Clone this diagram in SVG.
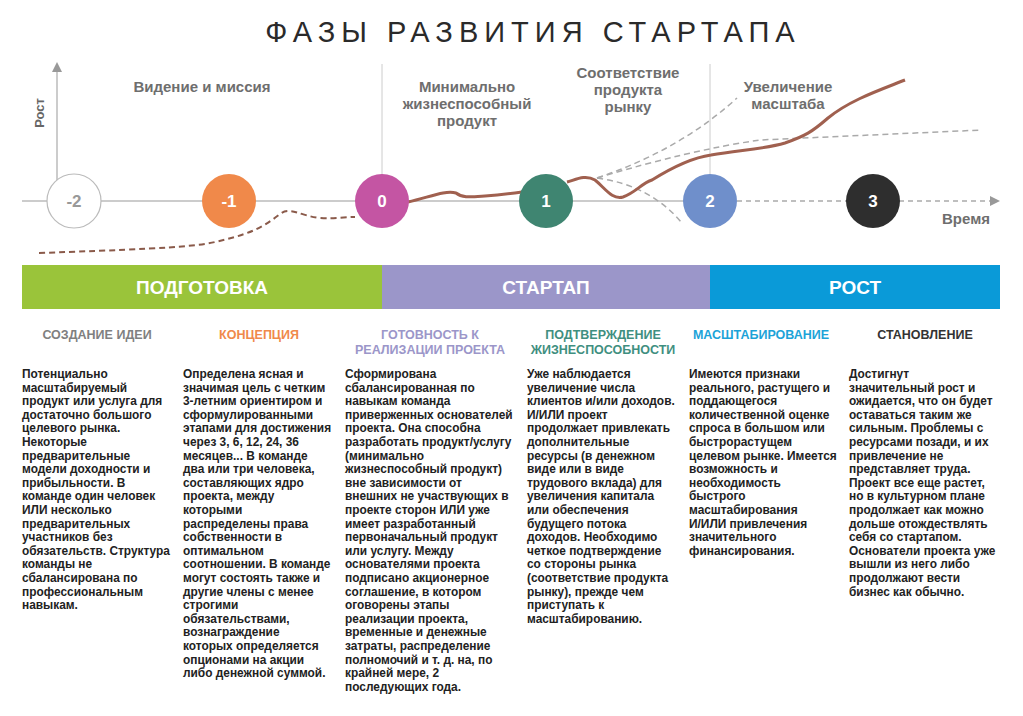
<svg xmlns="http://www.w3.org/2000/svg" width="1023" height="716" viewBox="0 0 1023 716">
<style>
.lbl{font-family:"Liberation Sans Narrow","Liberation Sans",Arial,sans-serif;font-weight:bold;font-size:15px;fill:#6e6e6e;text-anchor:middle}
.num{font-family:"Liberation Sans Narrow","Liberation Sans",sans-serif;font-weight:bold;font-size:17px;fill:#fff;text-anchor:middle}
.bar{font-family:"Liberation Sans",sans-serif;font-weight:bold;font-size:19px;fill:#fff;text-anchor:middle}
.hd{font-family:"Liberation Sans",sans-serif;font-weight:bold;font-size:12.5px;text-anchor:middle}
.body{font-family:"Liberation Sans",sans-serif;font-weight:bold;font-size:11.9px;fill:#222}
.g{fill:none;stroke:#aaa;stroke-width:1.5;stroke-dasharray:6 4}
</style>
<defs>
<marker id="ar" markerWidth="10" markerHeight="10" refX="8" refY="5" orient="auto" markerUnits="userSpaceOnUse"><path d="M0,0 L10,5 L0,10 z" fill="#999"/></marker>
</defs>
<rect width="1023" height="716" fill="#fff"/>
<text x="533" y="42" font-family="Liberation Sans,sans-serif" font-size="29" fill="#2a2a2a" text-anchor="middle" letter-spacing="6">ФАЗЫ РАЗВИТИЯ СТАРТАПА</text>
<g id="axes">
<line x1="57" y1="201" x2="57" y2="64" stroke="#aaa" stroke-width="1.2" marker-end="url(#ar)"/>
<text x="44" y="113" transform="rotate(-90 44 113)" font-family="Liberation Sans,sans-serif" font-weight="bold" font-size="13" fill="#666" text-anchor="middle">Рост</text>
<line x1="22" y1="201" x2="710" y2="201" stroke="#bbb" stroke-width="1.5"/>
<line x1="710" y1="201" x2="998" y2="201" stroke="#aaa" stroke-width="1.5" stroke-dasharray="5 4" marker-end="url(#ar)"/>
<text x="966" y="224" class="lbl">Время</text>
<line x1="382" y1="64" x2="382" y2="201" stroke="#ccc" stroke-width="1"/>
<line x1="710" y1="64" x2="710" y2="201" stroke="#ccc" stroke-width="1"/>
</g>
<g id="connectors">
<path class="g" d="M597,178 Q680,150 737,98"/>
<path class="g" d="M597,178 Q690,150 760,140 L982,130"/>
<path class="g" d="M597,178 Q650,185 682,223"/>
<path d="M39,253 C120,250 190,248 215,242 C245,235 260,230 280,214 C290,206 300,216 320,218 C335,219 345,217 355,217" fill="none" stroke="#8a5a4a" stroke-width="2" stroke-dasharray="6 4"/>
<path d="M408,202 C430,197 445,190 456,193 C462,198 470,197 485,196 C500,195 515,193 522,192 M567,182 C575,180 585,174 595,180 C605,188 612,200 623,197 C635,193 642,183 652,180 C668,170 690,158 711,155 C740,150 765,149 785,143 C805,136 812,132 828,118 C850,100 880,90 905,80" fill="none" stroke="#a0604f" stroke-width="3"/>
</g>
<g id="n-2"><circle cx="74" cy="201" r="27" fill="#fff" stroke="#bbb" stroke-width="1.2"/><text x="74" y="207" class="num" style="fill:#999">-2</text></g>
<g id="n-1"><circle cx="229" cy="201" r="27" fill="#f0894a"/><text x="229" y="207" class="num">-1</text></g>
<g id="n0"><circle cx="382" cy="201" r="27" fill="#c455a3"/><text x="382" y="207" class="num">0</text></g>
<g id="n1"><circle cx="546" cy="201" r="27" fill="#3f8571"/><text x="546" y="207" class="num">1</text></g>
<g id="n2"><circle cx="710" cy="201" r="27" fill="#6f8fcb"/><text x="710" y="207" class="num">2</text></g>
<g id="n3"><circle cx="873" cy="201" r="27" fill="#2e2e2e"/><text x="873" y="207" class="num">3</text></g>
<g id="labels">
<text x="202" y="92" class="lbl">Видение и миссия</text>
<text x="467" y="92" class="lbl"><tspan x="467">Минимально</tspan><tspan x="467" dy="17">жизнеспособный</tspan><tspan x="467" dy="17">продукт</tspan></text>
<text x="628" y="78" class="lbl"><tspan x="628">Соответствие</tspan><tspan x="628" dy="17">продукта</tspan><tspan x="628" dy="17">рынку</tspan></text>
<text x="788" y="92" class="lbl"><tspan x="788">Увеличение</tspan><tspan x="788" dy="17">масштаба</tspan></text>
</g>
<g id="bars">
<rect x="22" y="265" width="360" height="44" fill="#9ac43a"/>
<rect x="382" y="265" width="328" height="44" fill="#9b96c9"/>
<rect x="710" y="265" width="290" height="44" fill="#0a9ad8"/>
<text x="202" y="294" class="bar">ПОДГОТОВКА</text>
<text x="546" y="294" class="bar">СТАРТАП</text>
<text x="855" y="294" class="bar">РОСТ</text>
</g>
<g id="headings">
<text x="97" y="339" class="hd" fill="#808080">СОЗДАНИЕ ИДЕИ</text>
<text x="259" y="339" class="hd" fill="#f0894a">КОНЦЕПЦИЯ</text>
<text x="430" y="339" class="hd" fill="#9b96c9"><tspan x="430">ГОТОВНОСТЬ К</tspan><tspan x="430" dy="15">РЕАЛИЗАЦИИ ПРОЕКТА</tspan></text>
<text x="603" y="339" class="hd" fill="#3f8f80"><tspan x="603">ПОДТВЕРЖДЕНИЕ</tspan><tspan x="603" dy="15">ЖИЗНЕСПОСОБНОСТИ</tspan></text>
<text x="761" y="339" class="hd" fill="#1ca3d8">МАСШТАБИРОВАНИЕ</text>
<text x="925" y="339" class="hd" fill="#333">СТАНОВЛЕНИЕ</text>
</g>
<g id="texts">
<text class="body" y="378"><tspan x="22">Потенциально</tspan><tspan x="22" dy="13.6">масштабируемый</tspan><tspan x="22" dy="13.6">продукт или услуга для</tspan><tspan x="22" dy="13.6">достаточно большого</tspan><tspan x="22" dy="13.6">целевого рынка.</tspan><tspan x="22" dy="13.6">Некоторые</tspan><tspan x="22" dy="13.6">предварительные</tspan><tspan x="22" dy="13.6">модели доходности и</tspan><tspan x="22" dy="13.6">прибыльности. В</tspan><tspan x="22" dy="13.6">команде один человек</tspan><tspan x="22" dy="13.6">ИЛИ несколько</tspan><tspan x="22" dy="13.6">предварительных</tspan><tspan x="22" dy="13.6">участников без</tspan><tspan x="22" dy="13.6">обязательств. Структура</tspan><tspan x="22" dy="13.6">команды не</tspan><tspan x="22" dy="13.6">сбалансирована по</tspan><tspan x="22" dy="13.6">профессиональным</tspan><tspan x="22" dy="13.6">навыкам.</tspan></text>
<text class="body" y="378"><tspan x="183">Определена ясная и</tspan><tspan x="183" dy="13.6">значимая цель с четким</tspan><tspan x="183" dy="13.6">3-летним ориентиром и</tspan><tspan x="183" dy="13.6">сформулированными</tspan><tspan x="183" dy="13.6">этапами для достижения</tspan><tspan x="183" dy="13.6">через 3, 6, 12, 24, 36</tspan><tspan x="183" dy="13.6">месяцев... В команде</tspan><tspan x="183" dy="13.6">два или три человека,</tspan><tspan x="183" dy="13.6">составляющих ядро</tspan><tspan x="183" dy="13.6">проекта, между</tspan><tspan x="183" dy="13.6">которыми</tspan><tspan x="183" dy="13.6">распределены права</tspan><tspan x="183" dy="13.6">собственности в</tspan><tspan x="183" dy="13.6">оптимальном</tspan><tspan x="183" dy="13.6">соотношении. В команде</tspan><tspan x="183" dy="13.6">могут состоять также и</tspan><tspan x="183" dy="13.6">другие члены с менее</tspan><tspan x="183" dy="13.6">строгими</tspan><tspan x="183" dy="13.6">обязательствами,</tspan><tspan x="183" dy="13.6">вознаграждение</tspan><tspan x="183" dy="13.6">которых определяется</tspan><tspan x="183" dy="13.6">опционами на акции</tspan><tspan x="183" dy="13.6">либо денежной суммой.</tspan></text>
<text class="body" y="378"><tspan x="345">Сформирована</tspan><tspan x="345" dy="13.6">сбалансированная по</tspan><tspan x="345" dy="13.6">навыкам команда</tspan><tspan x="345" dy="13.6">приверженных основателей</tspan><tspan x="345" dy="13.6">проекта. Она способна</tspan><tspan x="345" dy="13.6">разработать продукт/услугу</tspan><tspan x="345" dy="13.6">(минимально</tspan><tspan x="345" dy="13.6">жизнеспособный продукт)</tspan><tspan x="345" dy="13.6">вне зависимости от</tspan><tspan x="345" dy="13.6">внешних не участвующих в</tspan><tspan x="345" dy="13.6">проекте сторон ИЛИ уже</tspan><tspan x="345" dy="13.6">имеет разработанный</tspan><tspan x="345" dy="13.6">первоначальный продукт</tspan><tspan x="345" dy="13.6">или услугу. Между</tspan><tspan x="345" dy="13.6">основателями проекта</tspan><tspan x="345" dy="13.6">подписано акционерное</tspan><tspan x="345" dy="13.6">соглашение, в котором</tspan><tspan x="345" dy="13.6">оговорены этапы</tspan><tspan x="345" dy="13.6">реализации проекта,</tspan><tspan x="345" dy="13.6">временные и денежные</tspan><tspan x="345" dy="13.6">затраты, распределение</tspan><tspan x="345" dy="13.6">полномочий и т. д. на, по</tspan><tspan x="345" dy="13.6">крайней мере, 2</tspan><tspan x="345" dy="13.6">последующих года.</tspan></text>
<text class="body" y="378"><tspan x="527">Уже наблюдается</tspan><tspan x="527" dy="13.6">увеличение числа</tspan><tspan x="527" dy="13.6">клиентов и/или доходов.</tspan><tspan x="527" dy="13.6">И/ИЛИ проект</tspan><tspan x="527" dy="13.6">продолжает привлекать</tspan><tspan x="527" dy="13.6">дополнительные</tspan><tspan x="527" dy="13.6">ресурсы (в денежном</tspan><tspan x="527" dy="13.6">виде или в виде</tspan><tspan x="527" dy="13.6">трудового вклада) для</tspan><tspan x="527" dy="13.6">увеличения капитала</tspan><tspan x="527" dy="13.6">или обеспечения</tspan><tspan x="527" dy="13.6">будущего потока</tspan><tspan x="527" dy="13.6">доходов. Необходимо</tspan><tspan x="527" dy="13.6">четкое подтверждение</tspan><tspan x="527" dy="13.6">со стороны рынка</tspan><tspan x="527" dy="13.6">(соответствие продукта</tspan><tspan x="527" dy="13.6">рынку), прежде чем</tspan><tspan x="527" dy="13.6">приступать к</tspan><tspan x="527" dy="13.6">масштабированию.</tspan></text>
<text class="body" y="378"><tspan x="689">Имеются признаки</tspan><tspan x="689" dy="13.6">реального, растущего и</tspan><tspan x="689" dy="13.6">поддающегося</tspan><tspan x="689" dy="13.6">количественной оценке</tspan><tspan x="689" dy="13.6">спроса в большом или</tspan><tspan x="689" dy="13.6">быстрорастущем</tspan><tspan x="689" dy="13.6">целевом рынке. Имеется</tspan><tspan x="689" dy="13.6">возможность и</tspan><tspan x="689" dy="13.6">необходимость</tspan><tspan x="689" dy="13.6">быстрого</tspan><tspan x="689" dy="13.6">масштабирования</tspan><tspan x="689" dy="13.6">И/ИЛИ привлечения</tspan><tspan x="689" dy="13.6">значительного</tspan><tspan x="689" dy="13.6">финансирования.</tspan></text>
<text class="body" y="378"><tspan x="849">Достигнут</tspan><tspan x="849" dy="13.6">значительный рост и</tspan><tspan x="849" dy="13.6">ожидается, что он будет</tspan><tspan x="849" dy="13.6">оставаться таким же</tspan><tspan x="849" dy="13.6">сильным. Проблемы с</tspan><tspan x="849" dy="13.6">ресурсами позади, и их</tspan><tspan x="849" dy="13.6">привлечение не</tspan><tspan x="849" dy="13.6">представляет труда.</tspan><tspan x="849" dy="13.6">Проект все еще растет,</tspan><tspan x="849" dy="13.6">но в культурном плане</tspan><tspan x="849" dy="13.6">продолжает как можно</tspan><tspan x="849" dy="13.6">дольше отождествлять</tspan><tspan x="849" dy="13.6">себя со стартапом.</tspan><tspan x="849" dy="13.6">Основатели проекта уже</tspan><tspan x="849" dy="13.6">вышли из него либо</tspan><tspan x="849" dy="13.6">продолжают вести</tspan><tspan x="849" dy="13.6">бизнес как обычно.</tspan></text>
</g>
</svg>
